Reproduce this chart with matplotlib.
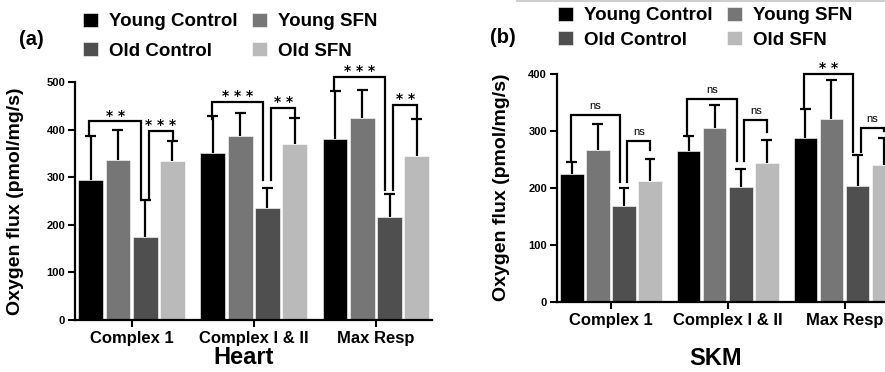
import numpy as np
import matplotlib
matplotlib.use('agg')
import matplotlib.pyplot as plt
from matplotlib.lines import Line2D

plt.rcParams['font.family'] = ['Liberation Sans', 'DejaVu Sans']
plt.rcParams['font.weight'] = 'bold'

groups = ['Complex 1', 'Complex I & II', 'Max Resp']
series = ['Young Control', 'Young SFN', 'Old Control', 'Old SFN']
colors = ['#000000', '#767676', '#4f4f4f', '#bababa']

# Heart (pmol/mg/s), mean and upper SD
heart_yc = [295, 351, 380]
heart_ysfn = [337, 386, 424]
heart_oc = [174, 236, 216]
heart_osfn = [333, 369, 345]
heart_yc_err = [92, 77, 101]
heart_ysfn_err = [62, 48, 59]
heart_oc_err = [78, 41, 49]
heart_osfn_err = [43, 56, 78]

# SKM (pmol/mg/s)
skm_yc = [224, 264, 288]
skm_ysfn = [266, 304, 320]
skm_oc = [167, 202, 203]
skm_osfn = [212, 244, 240]
skm_yc_err = [21, 26, 50]
skm_ysfn_err = [46, 41, 69]
skm_oc_err = [32, 30, 54]
skm_osfn_err = [38, 40, 47]

# significance: Young Control vs Old Control, Old Control vs Old SFN
heart_sig_a = ['**', '***', '***']
heart_sig_b = ['***', '**', '**']
heart_top_a = [417, 458, 511]
heart_top_b = [398, 446, 452]
heart_leg_a = [(387, 252), (423, 294), (481, 273)]
heart_leg_b = [(252, 376), (294, 425), (273, 423)]

skm_sig_a = ['ns', 'ns', '**']
skm_sig_b = ['ns', 'ns', 'ns']
skm_top_a = [327, 355, 400]
skm_top_b = [282, 318, 304]
skm_leg_a = [(246, 210), (290, 246), (338, 263)]
skm_leg_b = [(210, 266), (246, 298), (263, 300)]

step = 0.223
width = 0.203
capw = 0.045


def bracket(ax, x0, x1, top, legs, label):
    ax.plot([x0, x0, x1, x1], [legs[0], top, top, legs[1]], color='black',
            lw=1.6, clip_on=False, solid_joinstyle='miter')
    if label == 'ns':
        ax.annotate(label, ((x0 + x1) / 2, top), xytext=(0, 3), textcoords='offset points',
                    ha='center', va='bottom', fontsize=8, fontweight='normal',
                    annotation_clip=False)
    else:
        ax.annotate(' '.join(label), ((x0 + x1) / 2, top), xytext=(0, -1),
                    textcoords='offset points', ha='center', va='bottom',
                    fontsize=10, fontweight='bold', family='DejaVu Sans',
                    annotation_clip=False)


def draw_panel(ax, means, errs, sig_a, top_a, leg_a, sig_b, top_b, leg_b, ymax, lpad):
    x = np.arange(len(groups))
    offsets = (np.arange(4) - 1.5) * step
    for i in range(4):
        xs = x + offsets[i]
        ax.bar(xs, means[i], width, color=colors[i], label=series[i], zorder=2,
               edgecolor='white', linewidth=0.4)
        tops = np.array(means[i]) + np.array(errs[i])
        ax.vlines(xs, means[i], tops, color='black', lw=1.6, zorder=3)
        ax.hlines(tops, xs - capw, xs + capw, color='black', lw=1.6, zorder=3)
    for g in range(len(groups)):
        bracket(ax, x[g] + offsets[0] - 0.01, x[g] + offsets[2] - 0.035,
                top_a[g], leg_a[g], sig_a[g])
        bracket(ax, x[g] + offsets[2] + 0.03, x[g] + offsets[3] + 0.005,
                top_b[g], leg_b[g], sig_b[g])

    ax.set_xlim(-0.463, 2.463)
    ax.set_ylim(0, ymax)
    ax.set_yticks(np.arange(0, ymax + 1, 100))
    ax.set_xticks(x)
    ax.set_xticklabels(groups, fontsize=12, fontweight='bold')
    ax.tick_params(axis='y', labelsize=8, width=1.5, length=5, pad=2)
    ax.tick_params(axis='x', width=1.5, length=5, pad=3)
    for s in ['top', 'right']:
        ax.spines[s].set_visible(False)
    for s in ['left', 'bottom']:
        ax.spines[s].set_linewidth(1.6)
    ax.set_ylabel('Oxygen flux (pmol/mg/s)', fontsize=14, fontweight='bold', labelpad=lpad)


fig = plt.figure(figsize=(8.85, 3.72), dpi=100)

ax1 = fig.add_axes([0.0847, 0.1398, 0.404, 0.6398])
draw_panel(ax1, [heart_yc, heart_ysfn, heart_oc, heart_osfn],
           [heart_yc_err, heart_ysfn_err, heart_oc_err, heart_osfn_err],
           heart_sig_a, heart_top_a, heart_leg_a, heart_sig_b, heart_top_b, heart_leg_b,
           500, 16)

ax2 = fig.add_axes([0.629, 0.189, 0.3864, 0.613])
draw_panel(ax2, [skm_yc, skm_ysfn, skm_oc, skm_osfn],
           [skm_yc_err, skm_ysfn_err, skm_oc_err, skm_osfn_err],
           skm_sig_a, skm_top_a, skm_leg_a, skm_sig_b, skm_top_b, skm_leg_b,
           400, 13)

# legends: column-wise fill -> reorder so rows read YC, YSFN / OC, OSFN
for ax, x0, y0, ls in [(ax1, 0.0938, 0.966, 0.62), (ax2, 0.6305, 0.982, 0.36)]:
    h, l = ax.get_legend_handles_labels()
    order = [0, 2, 1, 3]
    ax.legend([h[k] for k in order], [l[k] for k in order], ncol=2, loc='upper left',
              bbox_to_anchor=(x0, y0), bbox_transform=fig.transFigure, frameon=False,
              borderpad=0, borderaxespad=0, handlelength=0.8, handleheight=0.8,
              handletextpad=0.6, columnspacing=0.75, labelspacing=ls,
              prop={'size': 13.5, 'weight': 'bold'})

fig.text(0.035, 0.893, '(a)', fontsize=14.5, fontweight='bold', ha='center', va='center')
fig.text(0.568, 0.9, '(b)', fontsize=14.5, fontweight='bold', ha='center', va='center')
fig.text(0.275, 0.04, 'Heart', fontsize=17, fontweight='bold', ha='center', va='center')
fig.text(0.808, 0.035, 'SKM', fontsize=17, fontweight='bold', ha='center', va='center')

fig.add_artist(Line2D([0.584, 1.0], [0.997, 0.997], color='#cfcfcf', lw=1.5))

fig.savefig('out.png', dpi=100)
